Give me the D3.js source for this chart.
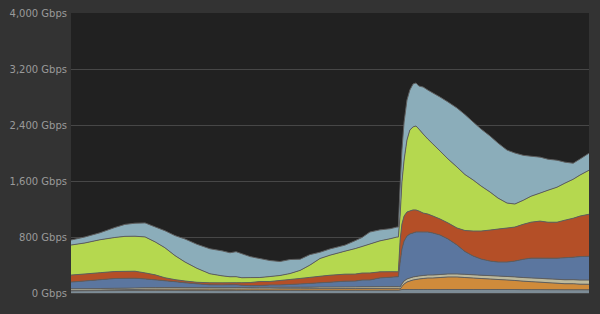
<!DOCTYPE html>
<html>
<head>
<meta charset="utf-8">
<script src="https://cdn.jsdelivr.net/npm/d3@7"></script>
<style>
  html, body { margin: 0; padding: 0; background: #333333; }
  svg { display: block; }
  .tick text { font-family: "DejaVu Sans", sans-serif; font-size: 10px; fill: #9a9a9a; }
</style>
</head>
<body>
<div id="chart"></div>
<script>
// time of day in minutes
const minutes = [0, 39, 81, 122, 150, 178, 206, 234, 261, 289, 317, 350, 386, 420, 442, 459, 475, 498, 525, 553, 581, 609, 637, 664, 692, 720, 762, 790, 809, 831, 859, 887, 906, 910,
  915, 920, 926, 934, 942, 951, 959, 967, 979, 992, 1006, 1026, 1048, 1073, 1095, 1118, 1140, 1165, 1187, 1212, 1234, 1257, 1279, 1304, 1326, 1351, 1373, 1396, 1415, 1440];

// traffic per source, Gbps (bottom to top)
const grayTraffic = [30, 32, 34, 35, 36, 36, 37, 37, 36, 36, 35, 35, 35, 34, 34, 35, 35, 36, 36, 36, 37, 37, 37, 38, 38, 38, 38, 38, 39, 39, 39, 40, 40, 40,
  43, 50, 50, 50, 50, 50, 50, 50, 50, 50, 50, 50, 50, 50, 50, 50, 50, 50, 50, 50, 50, 48, 48, 48, 47, 47, 46, 46, 46, 45];
const orangeTraffic = [5, 6, 8, 10, 12, 14, 16, 18, 19, 20, 20, 20, 21, 21, 21, 21, 21, 22, 22, 22, 22, 23, 23, 23, 24, 24, 25, 25, 25, 26, 26, 27, 27, 27,
  14, 43, 79, 107, 121, 136, 143, 150, 157, 164, 164, 171, 179, 179, 171, 164, 157, 150, 143, 136, 129, 121, 114, 107, 100, 93, 86, 86, 80, 80];
const beigeTraffic = [24, 23, 22, 22, 21, 21, 22, 22, 23, 23, 22, 22, 21, 21, 22, 22, 22, 22, 23, 23, 23, 22, 22, 22, 23, 23, 23, 24, 24, 24, 25, 25, 25, 25,
  29, 36, 43, 43, 43, 43, 43, 43, 43, 43, 43, 43, 43, 43, 46, 46, 47, 48, 49, 50, 51, 52, 53, 54, 55, 56, 57, 58, 59, 60];
const blueTraffic = [97, 111, 126, 140, 140, 140, 126, 111, 97, 83, 69, 54, 40, 40, 40, 40, 33, 26, 26, 33, 33, 40, 47, 54, 61, 69, 83, 83, 97, 97, 126, 133, 140, 140,
  357, 500, 571, 614, 629, 629, 636, 629, 621, 614, 600, 564, 500, 414, 326, 268, 231, 208, 200, 206, 226, 260, 283, 289, 295, 301, 315, 321, 335, 340];
const redTraffic = [100, 100, 100, 100, 100, 100, 86, 71, 43, 29, 25, 22, 29, 29, 29, 29, 36, 43, 57, 50, 64, 71, 79, 86, 93, 100, 100, 100, 100, 100, 86, 79, 71, 71,
  314, 357, 357, 343, 329, 329, 314, 300, 271, 257, 243, 229, 229, 243, 300, 357, 400, 443, 471, 486, 486, 500, 514, 529, 514, 514, 536, 557, 579, 600];
const limeTraffic = [429, 443, 471, 486, 500, 500, 514, 471, 429, 343, 271, 200, 129, 100, 86, 86, 71, 71, 57, 71, 71, 85, 115, 175, 253, 286, 329, 364, 379, 414, 443, 471, 496, 496,
  357, 600, 800, 1029, 1157, 1186, 1200, 1171, 1129, 1071, 1029, 971, 914, 871, 800, 729, 643, 543, 443, 357, 329, 343, 371, 400, 457, 500, 529, 557, 586, 629];
const skyTraffic = [71, 86, 100, 143, 171, 186, 200, 214, 243, 286, 329, 343, 357, 357, 343, 357, 343, 300, 271, 229, 200, 200, 160, 150, 90, 90, 86, 114, 129, 171, 157, 143, 143, 143,
  429, 457, 543, 571, 571, 614, 614, 614, 671, 700, 729, 771, 814, 843, 857, 829, 814, 800, 786, 757, 729, 643, 571, 514, 443, 386, 300, 229, 229, 243];

const yTicks = [0, 800, 1600, 2400, 3200, 4000];

const series = [
  { key: "gray", values: grayTraffic, color: "#7d8c96" },
  { key: "orange", values: orangeTraffic, color: "#cf8b3b" },
  { key: "beige", values: beigeTraffic, color: "#bdb99c" },
  { key: "blue", values: blueTraffic, color: "#5b769f" },
  { key: "red", values: redTraffic, color: "#b44f27" },
  { key: "lime", values: limeTraffic, color: "#b5d84f" },
  { key: "sky", values: skyTraffic, color: "#8badba" }
];

const width = 600, height = 314;
const margin = { top: 13, right: 11, bottom: 21, left: 71 };

const rows = minutes.map(function (m, i) {
  const r = { minute: m };
  series.forEach(s => { r[s.key] = s.values[i]; });
  return r;
});

const svg = d3.select("#chart")
  .append("svg")
  .attr("width", width)
  .attr("height", height);

const x = d3.scaleLinear()
  .domain([0, 1440])
  .range([margin.left, width - margin.right]);

const y = d3.scaleLinear()
  .domain([0, 4000])
  .range([height - margin.bottom, margin.top]);

// plot background
svg.append("rect")
  .attr("x", margin.left)
  .attr("y", margin.top)
  .attr("width", width - margin.left - margin.right)
  .attr("height", height - margin.top - margin.bottom)
  .attr("fill", "#212121");

// y axis with gridlines
const yAxis = svg.append("g")
  .attr("transform", `translate(${margin.left},0)`)
  .call(d3.axisLeft(y)
    .tickValues(yTicks)
    .tickSize(-(width - margin.left - margin.right))
    .tickPadding(4)
    .tickFormat(d => d3.format(",")(d) + " Gbps"));
yAxis.select(".domain").remove();
yAxis.selectAll(".tick line")
  .attr("stroke", "#474747")
  .attr("stroke-width", 1)
  .filter(d => d === 4000).remove();

const stack = d3.stack().keys(series.map(s => s.key));
const layers = stack(rows);

const area = d3.area()
  .x(d => x(d.data.minute))
  .y0(d => y(d[0]))
  .y1(d => y(d[1]));

const topLine = d3.line()
  .x(d => x(d.data.minute))
  .y(d => y(d[1]));

svg.append("g")
  .selectAll("path")
  .data(layers)
  .join("path")
  .attr("d", area)
  .attr("fill", (d, i) => series[i].color);

svg.append("g")
  .selectAll("path")
  .data(layers)
  .join("path")
  .attr("d", topLine)
  .attr("fill", "none")
  .attr("stroke", "#5e5e5e")
  .attr("stroke-width", 1);
</script>
</body>
</html>
